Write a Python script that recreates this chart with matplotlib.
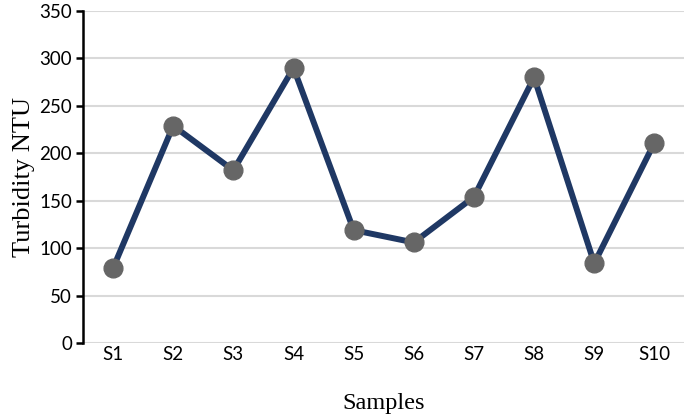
import matplotlib
matplotlib.use("Agg")
import matplotlib.pyplot as plt

samples = ["S1", "S2", "S3", "S4", "S5", "S6", "S7", "S8", "S9", "S10"]
turbidity = [79, 229, 182, 290, 119, 106, 154, 280, 84, 211]
y_ticks = [0, 50, 100, 150, 200, 250, 300, 350]

LINE_COLOR = "#1f3864"
MARKER_COLOR = "#666666"
GRID_COLOR = "#d9d9d9"

fig = plt.figure(figsize=(6.85, 4.17), dpi=100)
ax = fig.add_axes([0.1212, 0.1775, 0.878, 0.7961])

x = list(range(len(samples)))
ax.plot(x, turbidity, color=LINE_COLOR, linewidth=4.3, marker="o",
        markersize=13.5, markerfacecolor=MARKER_COLOR, markeredgecolor=MARKER_COLOR,
        zorder=3)

ax.set_xlim(-0.5, len(samples) - 0.5)
ax.set_ylim(0, 350)
ax.set_yticks(y_ticks)
ax.set_xticks(x)
ax.set_xticklabels(samples)

ax.grid(axis="y", color=GRID_COLOR, linewidth=1.5, zorder=0)
ax.set_axisbelow(True)
for side in ["top", "right", "bottom"]:
    ax.spines[side].set_visible(False)
ax.spines["left"].set_linewidth(1.8)
ax.spines["left"].set_color("black")

ax.tick_params(axis="y", direction="out", length=5, width=1.8, labelsize=13.5, pad=3)
ax.tick_params(axis="x", length=0, labelsize=13.5, pad=2)
for lbl in ax.get_xticklabels() + ax.get_yticklabels():
    lbl.set_fontfamily("Lato")

ax.set_xlabel("Samples", fontfamily="Liberation Serif", fontsize=17.5, labelpad=22)
ax.set_ylabel("Turbidity NTU", fontfamily="Liberation Serif", fontsize=19, labelpad=3)

fig.savefig("out.png", dpi=100)
